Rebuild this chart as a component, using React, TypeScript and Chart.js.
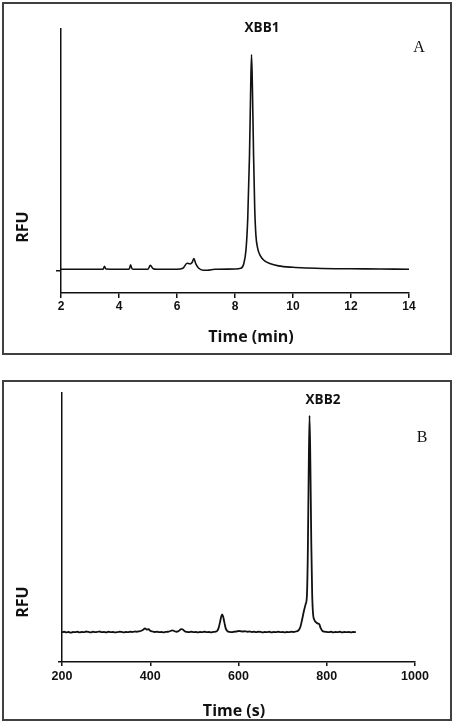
import React, { useEffect, useRef } from "react";
import { Chart, registerables } from "chart.js";

Chart.register(...registerables);

// Panel A — XBB1 trace, migration time in minutes
const timeA = [
  2.0, 3.0, 3.45, 3.5, 3.55, 4.0, 4.35, 4.4, 4.45, 4.5, 5.0, 5.08, 5.18, 5.3,
  6.0, 6.2, 6.35, 6.45, 6.52, 6.58, 6.65, 6.75, 6.9, 7.05, 7.3, 8.0, 8.2, 8.3,
  8.38, 8.44, 8.5, 8.54, 8.57, 8.6, 8.64, 8.68, 8.72, 8.78, 8.88, 9.0, 9.2,
  9.5, 10.0, 10.5, 11.0, 12.0, 13.0, 14.0,
];
const rfuA = [
  0.08, 0.08, 0.08, 0.2, 0.09, 0.08, 0.08, 0.26, 0.1, 0.08, 0.08, 0.24, 0.1, 0.08,
  0.08, 0.12, 0.33, 0.3, 0.36, 0.52, 0.3, 0.12, 0.04, 0.04, 0.08, 0.09, 0.12, 0.3,
  0.9, 2.2, 4.8, 7.5, 8.95, 7.6, 4.8, 2.6, 1.5, 0.95, 0.62, 0.45, 0.32,
  0.22, 0.16, 0.13, 0.11, 0.1, 0.09, 0.08,
];
const xTicksA = [2, 4, 6, 8, 10, 12, 14];

// Panel B — XBB2 trace, migration time in seconds
const timeB = [
  200, 205, 210, 215, 220, 225, 230, 235, 240, 245, 250, 255, 260, 265, 270, 275,
  280, 285, 290, 295, 300, 305, 310, 315, 320, 325, 330, 335, 340, 345, 350, 355,
  360, 365, 370, 375, 380, 384, 388, 392, 396, 400, 405, 410, 415, 420, 425, 430,
  435, 440, 445, 450, 455, 460, 465, 470, 474, 478, 483, 488, 493, 498, 503, 508,
  513, 518, 523, 528, 533, 538, 543, 548, 552, 555, 558, 561, 563, 565, 568, 571,
  575, 580, 585, 590, 595, 600, 605, 610, 615, 620, 625, 630, 635, 640, 645, 650,
  655, 660, 665, 670, 675, 680, 685, 690, 695, 700, 705, 710, 715, 720, 725, 730,
  735, 740, 744, 748, 752, 755, 757, 759, 761, 763, 765, 767, 769, 772, 776, 780,
  783, 786, 790, 795, 800, 805, 810, 815, 820, 825, 830, 835, 840, 845, 850, 855,
  860, 866,
];
const rfuB = [
  0.04, 0.06, 0.03, 0.05, 0.02, 0.05, 0.04, 0.06, 0.03, 0.05, 0.04, 0.07, 0.05, 0.03, 0.06, 0.04,
  0.05, 0.07, 0.04, 0.05, 0.03, 0.06, 0.04, 0.05, 0.03, 0.04, 0.06, 0.05, 0.03, 0.05, 0.04, 0.06,
  0.05, 0.07, 0.06, 0.08, 0.1, 0.14, 0.2, 0.15, 0.17, 0.1, 0.07, 0.05, 0.06, 0.04, 0.05, 0.03,
  0.05, 0.06, 0.08, 0.12, 0.08, 0.06, 0.1, 0.17, 0.15, 0.08, 0.05, 0.04, 0.06, 0.04, 0.05, 0.03,
  0.05, 0.04, 0.06, 0.04, 0.05, 0.03, 0.05, 0.06, 0.1, 0.22, 0.45, 0.7, 0.78, 0.7, 0.45, 0.2,
  0.08, 0.05, 0.04, 0.06, 0.07, 0.09, 0.08, 0.07, 0.08, 0.06, 0.07, 0.05, 0.06, 0.04, 0.06, 0.05,
  0.03, 0.05, 0.04, 0.06, 0.03, 0.05, 0.04, 0.06, 0.04, 0.05, 0.03, 0.05, 0.04, 0.06, 0.05, 0.07,
  0.1, 0.25, 0.55, 0.9, 1.2, 1.55, 3.2, 6.6, 9.06, 6.9, 3.7, 1.6, 0.8, 0.55, 0.45, 0.4,
  0.38, 0.22, 0.1, 0.06, 0.05, 0.04, 0.06, 0.03, 0.05, 0.04, 0.06, 0.03, 0.05, 0.04, 0.05, 0.03,
  0.05, 0.04,
];
const xTicksB = [200, 400, 600, 800, 1000];

const INK = "#111";
const WIDTH = 452;

type TextItem = { text: string; x: number; y: number; font: string; rotate?: number };

function makeTextPlugin(items: TextItem[]) {
  return {
    id: "panelText",
    afterDraw(chart: Chart) {
      const ctx = chart.ctx;
      items.forEach((item) => {
        ctx.save();
        ctx.font = item.font;
        ctx.fillStyle = INK;
        ctx.textAlign = "center";
        ctx.textBaseline = "middle";
        ctx.translate(item.x, item.y);
        if (item.rotate) ctx.rotate(item.rotate);
        ctx.fillText(item.text, 0, 0);
        ctx.restore();
      });
    },
  };
}

type PanelProps = {
  top: number;
  height: number;
  times: number[];
  values: number[];
  xMin: number;
  xMax: number;
  xTicks: number[];
  yMin: number;
  yMax: number;
  yTick: number;
  area: { left: number; top: number; right: number; bottom: number };
  tickFont: number;
  tickLength: number;
  tickPadding: number;
  lineWidth: number;
  labels: TextItem[];
};

function Panel(p: PanelProps) {
  const ref = useRef<HTMLCanvasElement | null>(null);

  useEffect(() => {
    if (!ref.current) return;
    const axisGrid = {
      display: true,
      drawOnChartArea: false,
      drawTicks: true,
      tickLength: p.tickLength,
      color: INK,
      lineWidth: 1.5,
    };
    const axisBorder = { display: true, color: INK, width: 1.5 };
    const chart = new Chart(ref.current, {
      type: "line",
      data: {
        datasets: [
          {
            data: p.times.map((t, i) => ({ x: t, y: p.values[i] })),
            borderColor: INK,
            borderWidth: p.lineWidth,
            pointRadius: 0,
            fill: false,
            cubicInterpolationMode: "monotone",
          },
        ],
      },
      options: {
        responsive: false,
        animation: false,
        events: [],
        layout: {
          padding: { left: 0, top: p.area.top, right: WIDTH - p.area.right, bottom: 0 },
        },
        plugins: {
          legend: { display: false },
          tooltip: { enabled: false },
        },
        scales: {
          x: {
            type: "linear",
            min: p.xMin,
            max: p.xMax,
            afterBuildTicks: (s: any) => {
              s.ticks = p.xTicks.map((v) => ({ value: v }));
            },
            afterFit: (s: any) => {
              s.height = p.height - p.area.bottom;
            },
            grid: axisGrid,
            border: axisBorder,
            ticks: {
              color: INK,
              padding: p.tickPadding,
              maxRotation: 0,
              autoSkip: false,
              callback: (v: number) => String(v),
              font: { family: "'Liberation Sans', Arial, sans-serif", weight: "bold", size: p.tickFont },
            },
          },
          y: {
            type: "linear",
            min: p.yMin,
            max: p.yMax,
            afterBuildTicks: (s: any) => {
              s.ticks = [{ value: p.yTick }];
            },
            afterFit: (s: any) => {
              s.width = p.area.left;
            },
            grid: axisGrid,
            border: axisBorder,
            ticks: { display: false },
          },
        },
      } as any,
      plugins: [makeTextPlugin(p.labels)],
    });
    return () => chart.destroy();
  }, []);

  return (
    <canvas
      ref={ref}
      width={WIDTH}
      height={p.height}
      style={{ position: "absolute", left: 0, top: p.top, width: WIDTH, height: p.height }}
    />
  );
}

const titleFont = "bold 16px 'Open Sans', sans-serif";
const peakFont = "bold 13.5px 'Open Sans', sans-serif";
const letterFont = "16px 'Liberation Serif', 'Times New Roman', serif";

export default function App() {
  const frame: React.CSSProperties = {
    position: "absolute",
    left: 2,
    width: 450,
    boxSizing: "border-box",
    border: "2px solid #404040",
  };
  return (
    <div style={{ position: "absolute", left: 0, top: 0, width: WIDTH, height: 722, background: "#fff", overflow: "hidden" }}>
      <Panel
        top={0}
        height={358}
        times={timeA}
        values={rfuA}
        xMin={2}
        xMax={14}
        xTicks={xTicksA}
        yMin={-0.9}
        yMax={10}
        yTick={0}
        area={{ left: 61, top: 29, right: 409, bottom: 293 }}
        tickFont={12}
        tickLength={5}
        tickPadding={1}
        lineWidth={1.6}
        labels={[
          { text: "XBB1", x: 262, y: 28, font: peakFont },
          { text: "A", x: 419, y: 47.5, font: letterFont },
          { text: "RFU", x: 23, y: 227, font: titleFont, rotate: -Math.PI / 2 },
          { text: "Time (min)", x: 251, y: 337, font: titleFont },
        ]}
      />
      <div style={{ ...frame, top: 2, height: 353 }} />
      <Panel
        top={380}
        height={342}
        times={timeB}
        values={rfuB}
        xMin={200}
        xMax={1000}
        xTicks={xTicksB}
        yMin={-1.2}
        yMax={10}
        yTick={-1.2}
        area={{ left: 62, top: 13, right: 415, bottom: 282 }}
        tickFont={12.5}
        tickLength={4}
        tickPadding={3}
        lineWidth={1.8}
        labels={[
          { text: "XBB2", x: 323, y: 20, font: peakFont },
          { text: "B", x: 422, y: 57.5, font: letterFont },
          { text: "RFU", x: 23, y: 222, font: titleFont, rotate: -Math.PI / 2 },
          { text: "Time (s)", x: 234, y: 331, font: titleFont },
        ]}
      />
      <div style={{ ...frame, top: 380, height: 341 }} />
    </div>
  );
}
